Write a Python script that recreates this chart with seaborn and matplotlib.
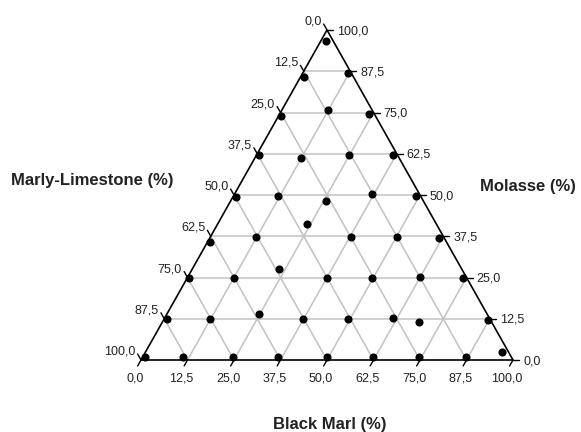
import matplotlib
matplotlib.use("Agg")
import matplotlib.pyplot as plt
import numpy as np
import pandas as pd
import seaborn as sns

# Ternary data (percent): Black Marl, Molasse; Marly-Limestone is the remainder
black_marl = [0.6, 10.9, 24.2, 36.2, 49.4, 61.8, 74.3, 86.8, 95.9,
              0.8, 12.4, 24.9, 37.5, 49.6, 61.5, 69.1, 87.1,
              0.6, 12.7, 23.3, 37.5, 49.8, 62.4, 74.2,
              0.7, 12.1, 24.2, 37.7, 50.0, 61.7,
              0.8, 12.0, 25.5, 37.0, 49.0,
              0.7, 12.3, 24.9, 36.6,
              0.7, 12.3, 24.1,
              1.0, 12.3,
              1.3]
molasse = [1.0, 1.0, 1.0, 1.0, 1.0, 1.0, 1.0, 1.0, 2.5,
           12.3, 12.3, 13.9, 12.3, 12.3, 12.6, 11.4, 12.1,
           24.8, 24.8, 27.6, 24.8, 24.8, 25.2, 24.8,
           35.7, 37.4, 41.1, 37.4, 37.4, 36.9,
           49.3, 49.7, 48.3, 50.3, 49.7,
           62.1, 61.3, 62.1, 62.1,
           74.0, 75.8, 74.5,
           85.8, 86.9,
           96.8]
marly_limestone = [round(100 - b - m, 1) for b, m in zip(black_marl, molasse)]

tick_values = [0, 12.5, 25, 37.5, 50, 62.5, 75, 87.5, 100]
tick_labels = ["0,0", "12,5", "25,0", "37,5", "50,0", "62,5", "75,0", "87,5", "100,0"]

sns.set_style("white")
plt.rcParams["font.family"] = ["Liberation Sans", "DejaVu Sans"]

W, H = 581, 432
fig = plt.figure(figsize=(W / 100, H / 100), dpi=100)
ax = fig.add_axes([141 / W, 72 / H, 372 / W, 330 / H])
ax.set_xlim(0, 100)
ax.set_ylim(0, 100)
ax.axis("off")

# cartesian projection of ternary coordinates
df = pd.DataFrame({"black_marl": black_marl, "molasse": molasse,
                   "marly_limestone": marly_limestone})
df["x"] = df["black_marl"] + df["molasse"] / 2
df["y"] = df["molasse"]

grid_c = "#c2c2c2"
for k in tick_values[1:-1]:
    ax.plot([k / 2, 100 - k / 2], [k, k], color=grid_c, lw=1.1, zorder=1)
    ax.plot([k, k + (100 - k) / 2], [0, 100 - k], color=grid_c, lw=1.1, zorder=1)
    ax.plot([100 - k, (100 - k) / 2], [0, 100 - k], color=grid_c, lw=1.1, zorder=1)

ax.plot([0, 100, 50, 0], [0, 0, 100, 0], color="black", lw=1.2, zorder=2,
        clip_on=False, solid_joinstyle="miter")

tm = 1.8          # tick length in molasse units (~6 px)
tx = 6 * 100 / 372
txt_c = "#222222"
fs = 9
for v, lab in zip(tick_values, tick_labels):
    # bottom axis: Black Marl
    ax.plot([v, v - tm / 2], [0, -tm], color="black", lw=1.0, clip_on=False, zorder=2)
    ax.annotate(lab, xy=(v, 0), xytext=(-6, -18.5), textcoords="offset pixels",
                ha="center", va="center", fontsize=fs, color=txt_c)
    # left axis: Marly-Limestone (0 at top)
    m = 100 - v
    ax.plot([m / 2, m / 2 - tm / 2], [m, m + tm], color="black", lw=1.0,
            clip_on=False, zorder=2)
    ax.annotate(lab, xy=(m / 2, m), xytext=(-5.5, 8.5), textcoords="offset pixels",
                ha="right", va="center", fontsize=fs, color=txt_c)
    # right axis: Molasse (100 at top)
    ax.plot([100 - v / 2, 100 - v / 2 + tx], [v, v], color="black", lw=1.0,
            clip_on=False, zorder=2)
    ax.annotate(lab, xy=(100 - v / 2, v), xytext=(10, -1), textcoords="offset pixels",
                ha="left", va="center", fontsize=fs, color=txt_c)

sns.scatterplot(data=df, x="x", y="y", color="black", s=34, linewidth=0,
                ax=ax, zorder=3, clip_on=False, legend=False)
ax.set_xlabel("")
ax.set_ylabel("")

fig.text(11 / W, 1 - 181 / H, "Marly-Limestone (%)", ha="left", va="center",
         fontsize=12, fontweight="bold", color=txt_c)
fig.text(480 / W, 1 - 186 / H, "Molasse (%)", ha="left", va="center",
         fontsize=12, fontweight="bold", color=txt_c)
fig.text(330 / W, 1 - 424 / H, "Black Marl (%)", ha="center", va="center",
         fontsize=12, fontweight="bold", color=txt_c)

fig.savefig("out.png", dpi=100, facecolor="white")
